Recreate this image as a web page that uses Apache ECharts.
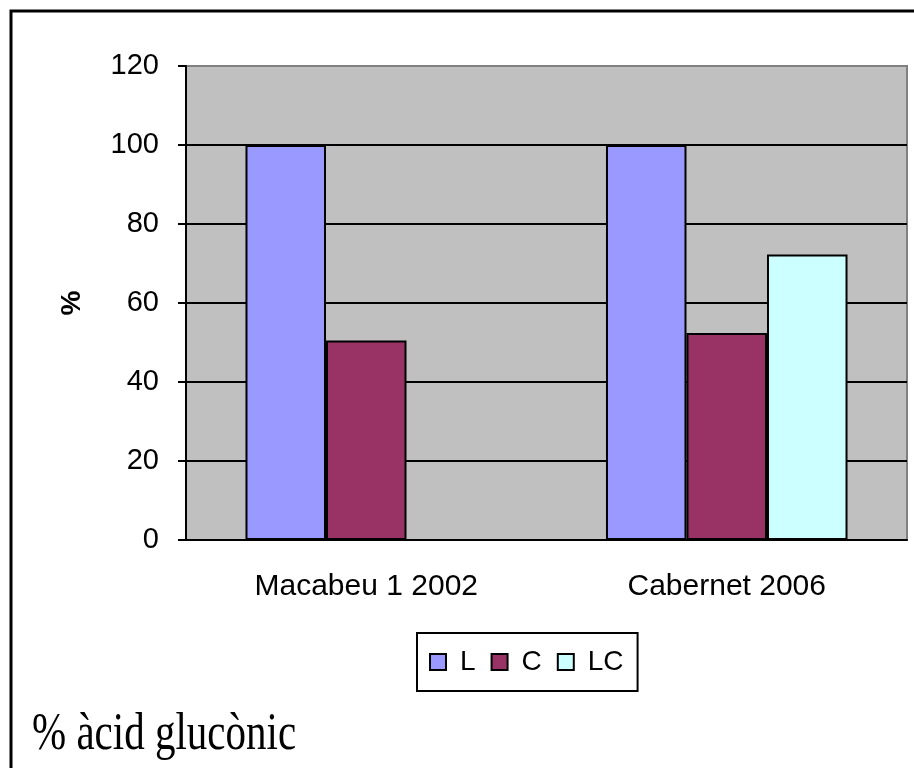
<!DOCTYPE html>
<html>
<head>
<meta charset="utf-8">
<script src="https://cdn.jsdelivr.net/npm/echarts@6/dist/echarts.min.js"></script>
<style>
  html, body { margin: 0; padding: 0; background: #fff; }
  #chart { width: 914px; height: 768px; }
</style>
</head>
<body>
<div id="chart"></div>
<script>
var categories = ['Macabeu 1 2002', 'Cabernet 2006'];
var seriesNames = ['L', 'C', 'LC'];
var valuesL = [100, 100];
var valuesC = [50.5, 52.4];
var valuesLC = ['-', 72.3];
var colors = ['#9999FF', '#993366', '#CCFFFF'];
var yTicks = { min: 0, max: 120, interval: 20 };

var chartDom = document.getElementById('chart');
var myChart = echarts.init(chartDom);

function barSeries(name, data){
    return {
        name: name,
        type: 'bar',
        data: data,
        barGap: '0%',
        barCategoryGap: '33%',
        itemStyle: { borderColor: '#000', borderWidth: 2 },
        emphasis: { disabled: true }
    };
}

var option = {
    animation: false,
    color: colors,
    textStyle: { fontFamily: 'Liberation Sans, Arial, sans-serif', color: '#000' },
    grid: {
        left: 186, right: 7, top: 66, bottom: 228,
        show: true,
        backgroundColor: '#C0C0C0',
        borderColor: '#808080',
        borderWidth: 2
    },
    legend: {
        data: seriesNames,
        left: 417,
        top: 633,
        itemWidth: 16,
        itemHeight: 16,
        itemGap: 15,
        icon: 'rect',
        padding: [15, 14, 15, 12],
        borderColor: '#000',
        borderWidth: 2,
        itemStyle: { borderColor: '#000', borderWidth: 2 },
        textStyle: { fontSize: 28, color: '#000', padding: [0, 0, 0, 9] }
    },
    xAxis: {
        type: 'category',
        data: categories,
        axisLine: { lineStyle: { color: '#000', width: 2 } },
        axisTick: { length: 8, lineStyle: { color: '#000', width: 2 } },
        axisLabel: { fontSize: 30, color: '#000', margin: 32 }
    },
    yAxis: {
        type: 'value',
        min: yTicks.min,
        max: yTicks.max,
        interval: yTicks.interval,
        name: '%',
        nameLocation: 'middle',
        nameGap: 100,
        nameTextStyle: { fontSize: 28, fontWeight: 'bold', color: '#000' },
        axisLine: { show: true, lineStyle: { color: '#000', width: 2 } },
        axisTick: { show: true, length: 8, lineStyle: { color: '#000', width: 2 } },
        axisLabel: { fontSize: 29, color: '#000', margin: 27 },
        splitLine: { show: true, showMaxLine: false, lineStyle: { color: '#000', width: 2 } }
    },
    graphic: [
        {
            type: 'rect',
            shape: { x: 11, y: 11, width: 960, height: 800 },
            style: { fill: 'none', stroke: '#000', lineWidth: 3 },
            silent: true
        },
        {
            type: 'text',
            x: 32,
            y: 735,
            scaleY: 1.3,
            style: {
                text: '% àcid glucònic',
                font: '41px "Liberation Serif", "Times New Roman", serif',
                fill: '#000',
                verticalAlign: 'middle'
            }
        }
    ],
    series: [
        barSeries('L', valuesL),
        barSeries('C', valuesC),
        barSeries('LC', valuesLC)
    ]
};

myChart.setOption(option);
</script>
</body>
</html>
